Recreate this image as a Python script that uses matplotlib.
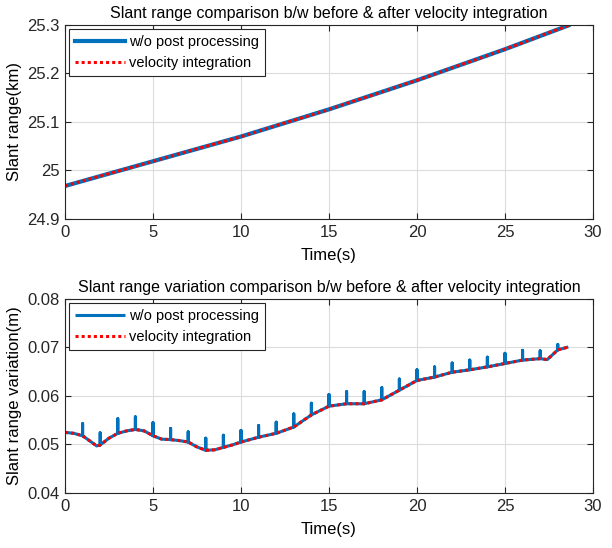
import matplotlib
matplotlib.use("Agg")
import matplotlib.pyplot as plt

plt.rcParams['font.family'] = ['Liberation Sans', 'DejaVu Sans']
plt.rcParams['font.size'] = 12

# top panel: slant range (km)
t_range = [0, 5, 10, 15, 20, 25, 28.6]
slant_range = [24.968, 25.019, 25.070, 25.126, 25.186, 25.250, 25.299]

# bottom panel: slant range variation (m), velocity integration curve
t_var = [0, 0.5, 1, 1.5, 1.8, 2, 2.5, 3, 3.5, 4, 4.5, 5, 5.5, 6, 6.5, 7, 7.5, 8, 8.5,
         9, 9.5, 10, 11, 12, 13, 14, 15, 16, 17, 18, 19, 20, 21, 22, 23, 24, 25,
         26, 27, 27.4, 28, 28.6]
var_smooth = [0.0525, 0.0523, 0.0518, 0.0505, 0.0497, 0.0499, 0.0513, 0.0523, 0.0528,
              0.0531, 0.0528, 0.0518, 0.0511, 0.0510, 0.0508, 0.0505, 0.0495, 0.0488,
              0.0489, 0.0494, 0.0499, 0.0505, 0.0515, 0.0523, 0.0536, 0.0561, 0.0579,
              0.0584, 0.0584, 0.0592, 0.0612, 0.0632, 0.0639, 0.0649, 0.0654, 0.0660,
              0.0667, 0.0674, 0.0677, 0.0675, 0.0695, 0.0701]

# w/o post processing: jumps at each whole second
spike_t = list(range(1, 29))
spike_top = [0.0543, 0.0524, 0.0553, 0.0557, 0.0545, 0.0533, 0.0526, 0.0513, 0.0519,
             0.0529, 0.0539, 0.0546, 0.0563, 0.0585, 0.0603, 0.0609, 0.0609, 0.0617,
             0.0635, 0.0654, 0.0660, 0.0668, 0.0674, 0.0680, 0.0688, 0.0694, 0.0693,
             0.0706]

blue = '#0072BD'
red = '#FF0000'

# blue path follows the curve and goes up/down at each spike time
raw_t, raw_y = [], []
for t, y in zip(t_var, var_smooth):
    raw_t.append(t)
    raw_y.append(y)
    if t in spike_t:
        raw_t += [t, t]
        raw_y += [spike_top[spike_t.index(t)], y]

fig = plt.figure(figsize=(6.12, 5.48), dpi=100)
ax1 = fig.add_axes([0.1062, 0.6004, 0.8627, 0.354])
ax2 = fig.add_axes([0.1062, 0.1004, 0.8627, 0.354])


def style(ax):
    ax.grid(True, color='#dcdcdc', linewidth=0.8)
    ax.set_axisbelow(True)
    ax.tick_params(direction='in', top=True, right=True, length=4,
                   colors='#262626', labelsize=12, pad=4)
    for s in ax.spines.values():
        s.set_color('#262626')
        s.set_linewidth(0.8)
    ax.set_xlim(0, 30)
    ax.set_xticks([0, 5, 10, 15, 20, 25, 30])
    ax.set_xlabel('Time(s)', fontsize=12, labelpad=6)
    ax.yaxis.set_label_coords(-0.082, 0.5)
    leg = ax.legend(loc='upper left', fontsize=10.5, fancybox=False, framealpha=1,
                    edgecolor='#262626', handlelength=3.4, borderpad=0.4,
                    labelspacing=0.5, handletextpad=0.3, borderaxespad=0.3)
    leg.get_frame().set_linewidth(0.8)


ax1.plot(t_range, slant_range, color=blue, lw=3.0, label='w/o post processing')
ax1.plot(t_range, slant_range, color=red, lw=2.2, dashes=(1, 1), label='velocity integration')
ax1.set_ylim(24.9, 25.3)
ax1.set_yticks([24.9, 25.0, 25.1, 25.2, 25.3])
ax1.set_yticklabels(['24.9', '25', '25.1', '25.2', '25.3'])
ax1.set_ylabel('Slant range(km)', fontsize=12)
ax1.set_title('Slant range comparison b/w before & after velocity integration',
              fontsize=11.5, pad=5)
style(ax1)

ax2.plot(raw_t, raw_y, color=blue, lw=2.2, solid_capstyle='butt', label='w/o post processing')
ax2.plot(t_var, var_smooth, color=red, lw=2.2, dashes=(1, 1), label='velocity integration')
ax2.set_ylim(0.04, 0.08)
ax2.set_yticks([0.04, 0.05, 0.06, 0.07, 0.08])
ax2.set_yticklabels(['0.04', '0.05', '0.06', '0.07', '0.08'])
ax2.set_ylabel('Slant range variation(m)', fontsize=12)
ax2.set_title('Slant range variation comparison b/w before & after velocity integration',
              fontsize=11.5, pad=5)
style(ax2)

fig.savefig('out.png', dpi=100)
